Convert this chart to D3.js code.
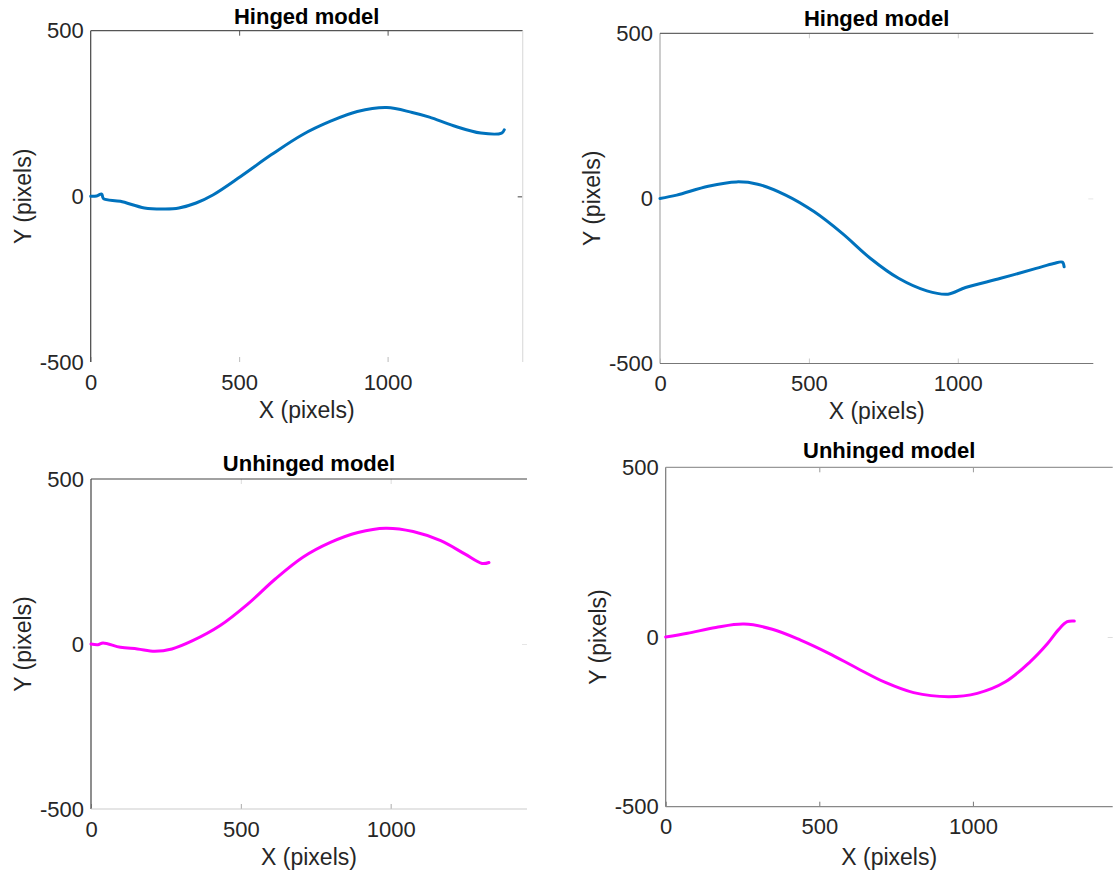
<!DOCTYPE html>
<html>
<head>
<meta charset="utf-8">
<script src="https://cdn.jsdelivr.net/npm/d3@7"></script>
<style>
  body { margin: 0; background: #fff; }
  text { font-family: "Liberation Sans", Arial, sans-serif; fill: #262626; }
</style>
</head>
<body>
<div id="chart"></div>
<script>
const WIDTH = 1115;
const HEIGHT = 877;

const X_LIMIT = [0, 1455];
const Y_LIMIT = [-500, 500];
const X_TICKS = [0, 500, 1000];
const Y_TICKS = [-500, 0, 500];

const TITLES = ['Hinged model', 'Hinged model', 'Unhinged model', 'Unhinged model'];
const X_LABEL = 'X (pixels)';
const Y_LABEL = 'Y (pixels)';

// traced points, [x, y] in data units
const hingedLeft = [
  [0, 0], [20, 1], [37, 7], [43, -7], [100, -15], [181, -35], [251, -38],
  [297, -35], [355, -20], [413, 5], [505, 60], [609, 126], [713, 186],
  [806, 226], [898, 256], [997, 268], [1083, 253], [1141, 239], [1222, 213],
  [1314, 191], [1384, 191], [1393, 201]
];
const hingedRight = [
  [0, 0], [56, 10], [162, 37], [257, 50], [328, 43], [422, 10], [517, -40],
  [612, -106], [707, -182], [801, -242], [896, -280], [967, -290],
  [1026, -270], [1144, -242], [1263, -212], [1322, -197], [1351, -193],
  [1357, -207]
];
const unhingedLeft = [
  [0, 0], [23, -2], [40, 3], [98, -10], [155, -15], [213, -22], [270, -15],
  [339, 10], [431, 56], [523, 121], [615, 197], [707, 263], [799, 308],
  [891, 338], [983, 351], [1075, 341], [1167, 313], [1247, 273],
  [1305, 244], [1328, 247]
];
const unhingedRight = [
  [0, 0], [71, 11], [163, 28], [255, 38], [347, 23], [439, -9], [531, -48],
  [623, -92], [715, -134], [807, -164], [922, -176], [1014, -166],
  [1106, -132], [1186, -73], [1243, -19], [1278, 21], [1307, 45], [1330, 47]
];

const panels = [
  { data: hingedLeft, color: '#0072bd', left: 90.7, top: 30.7, right: 522.7, bottom: 362, titleY: 24, xlabOff: 56,
    edge: { left: '#444', top: '#555', right: '#ddd', bottom: 'none' }, tick: { bottom: '#bbb', top: '#555', right: '#444' } },
  { data: hingedRight, color: '#0072bd', left: 660, top: 33.3, right: 1093.3, bottom: 363.5, titleY: 26, xlabOff: 56,
    edge: { left: '#aaa', top: '#666', right: 'none', bottom: '#777' }, tick: { bottom: '#ccc', top: '#ccc', right: '#e6e6e6' } },
  { data: unhingedLeft, color: '#ff00ff', left: 91, top: 479, right: 527, bottom: 809, titleY: 471, xlabOff: 56,
    edge: { left: '#444', top: '#444', right: 'none', bottom: '#ccc' }, tick: { bottom: '#aaa', top: '#ddd', right: '#e6e6e6' } },
  { data: unhingedRight, color: '#ff00ff', left: 665.7, top: 467.3, right: 1112.7, bottom: 806.7, titleY: 458, xlabOff: 58,
    edge: { left: '#777', top: '#999', right: 'none', bottom: '#888' }, tick: { bottom: '#777', top: '#999', right: '#ddd' } }
];

const svg = d3.select('#chart').append('svg')
  .attr('width', WIDTH)
  .attr('height', HEIGHT);

// plain hyphen for negatives, like the original
const fmt = d => String(d);

function styleAxis(g, tickColor) {
  g.select('.domain').remove();
  g.selectAll('.tick line').attr('stroke', tickColor).attr('stroke-width', 1);
  g.selectAll('.tick text')
    .style('font-family', '"Liberation Sans", Arial, sans-serif')
    .style('font-size', '22px')
    .attr('fill', '#262626');
}

panels.forEach((p, i) => {
  const w = p.right - p.left;
  const h = p.bottom - p.top;
  const x = d3.scaleLinear().domain(X_LIMIT).range([0, w]);
  const y = d3.scaleLinear().domain(Y_LIMIT).range([h, 0]);

  const g = svg.append('g').attr('transform', `translate(${p.left}, ${p.top})`);

  // axes with inward ticks
  g.append('g').attr('transform', `translate(0, ${h})`)
    .call(d3.axisBottom(x).tickValues(X_TICKS).tickSize(-5).tickPadding(12).tickFormat(fmt))
    .call(a => styleAxis(a, p.tick.bottom));
  g.append('g')
    .call(d3.axisLeft(y).tickValues(Y_TICKS).tickSize(0).tickPadding(7).tickFormat(fmt))
    .call(a => styleAxis(a, 'none'));
  g.append('g')
    .call(d3.axisTop(x).tickValues([500, 1000]).tickSize(-5).tickFormat(''))
    .call(a => styleAxis(a, p.tick.top));
  g.append('g').attr('transform', `translate(${w}, 0)`)
    .call(d3.axisRight(y).tickValues([0]).tickSize(-5).tickFormat(''))
    .call(a => styleAxis(a, p.tick.right));

  // box edges
  const edges = [
    ['left', 0, 0, 0, h], ['top', 0, 0, w, 0],
    ['right', w, 0, w, h], ['bottom', 0, h, w, h]
  ];
  edges.forEach(([k, x1, y1, x2, y2]) => {
    if (p.edge[k] === 'none') return;
    g.append('line')
      .attr('x1', x1).attr('y1', y1).attr('x2', x2).attr('y2', y2)
      .attr('stroke', p.edge[k]).attr('stroke-width', 1.2);
  });

  // trace
  const line = d3.line()
    .x(d => x(d[0]))
    .y(d => y(d[1]))
    .curve(d3.curveCatmullRom.alpha(0.5));
  g.append('path')
    .datum(p.data)
    .attr('fill', 'none')
    .attr('stroke', p.color)
    .attr('stroke-width', 3)
    .attr('stroke-linejoin', 'round')
    .attr('stroke-linecap', 'round')
    .attr('d', line);

  // texts
  svg.append('text')
    .attr('x', p.left + w / 2)
    .attr('y', p.titleY)
    .attr('text-anchor', 'middle')
    .style('font-size', '22px')
    .style('font-weight', 'bold')
    .style('fill', '#000')
    .text(TITLES[i]);

  g.append('text')
    .attr('x', w / 2)
    .attr('y', h + p.xlabOff)
    .attr('text-anchor', 'middle')
    .style('font-size', '23px')
    .text(X_LABEL);

  g.append('text')
    .attr('transform', `translate(-60, ${h / 2}) rotate(-90)`)
    .attr('text-anchor', 'middle')
    .style('font-size', '23px')
    .text(Y_LABEL);
});
</script>
</body>
</html>
